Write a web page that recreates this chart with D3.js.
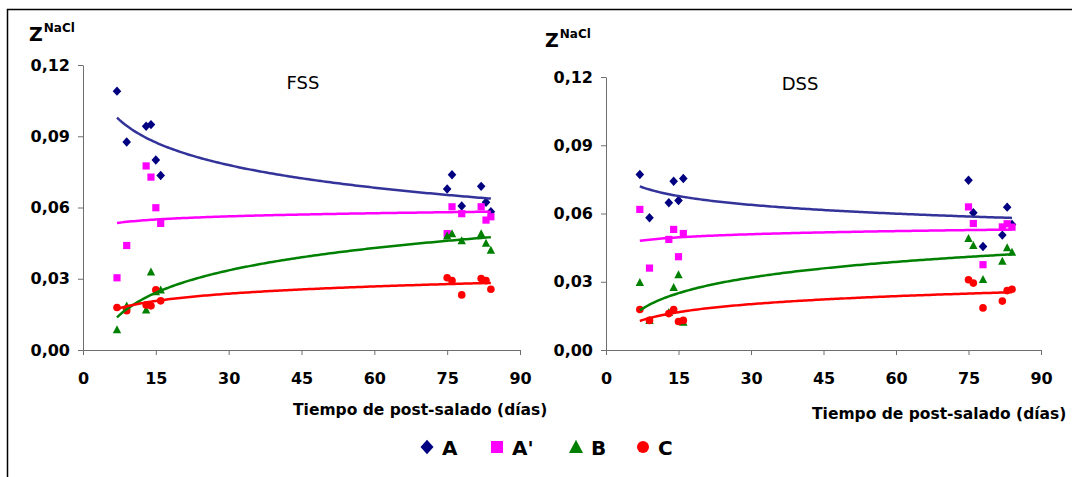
<!DOCTYPE html>
<html>
<head>
<meta charset="utf-8">
<script src="https://cdn.jsdelivr.net/npm/d3@7"></script>
<style>
  body { margin: 0; background: #fff; }
  svg { display: block; font-family: 'DejaVu Sans', Verdana, sans-serif; }
</style>
</head>
<body>
<svg id="chart" width="1072" height="477"></svg>
<script>
// days of post-salting, shared by every series
const days = [7, 9, 13, 14, 15, 16, 75, 76, 78, 82, 83, 84];

// FSS panel
const fssA = [0.109, 0.0876, 0.0942, 0.0949, 0.080, 0.0735, 0.0678, 0.0738, 0.0606, 0.0689, 0.0622, 0.0582];
const fssA2 = [0.0304, 0.044, 0.0775, 0.0728, 0.0599, 0.0533, 0.049, 0.0603, 0.0574, 0.0603, 0.0547, 0.0561];
const fssB = [0.0086, 0.0186, 0.0169, 0.0329, 0.0246, 0.0253, 0.048, 0.049, 0.046, 0.049, 0.045, 0.042];
const fssC = [0.0179, 0.0165, 0.019, 0.0186, 0.0253, 0.0207, 0.0304, 0.0292, 0.0232, 0.0301, 0.0292, 0.0256];

// DSS panel
const dssA = [0.0771, 0.0581, 0.0647, 0.0742, 0.0657, 0.0754, 0.0746, 0.0603, 0.0455, 0.0505, 0.0628, 0.0552];
const dssA2 = [0.0618, 0.036, 0.0486, 0.053, 0.041, 0.0512, 0.0629, 0.0556, 0.0375, 0.0541, 0.0555, 0.054];
const dssB = [0.0297, 0.013, 0.0165, 0.0275, 0.0331, 0.0122, 0.049, 0.046, 0.031, 0.039, 0.045, 0.043];
const dssC = [0.0178, 0.013, 0.016, 0.0178, 0.0125, 0.013, 0.0309, 0.0294, 0.0185, 0.0215, 0.0261, 0.0267];

const seriesNames = ['A', 'A\'', 'B', 'C'];
const yTicks = [0, 0.03, 0.06, 0.09, 0.12];
const xTicks = [0, 15, 30, 45, 60, 75, 90];
const xTitle = 'Tiempo de post-salado (días)';

const markerColors = ['#000080', '#ff00ff', '#008000', '#ff0000'];
const trendColors = ['#333399', '#ff00ff', '#008000', '#ff0000'];
const shapes = ['diamond', 'square', 'triangle', 'circle'];

const svg = d3.select('#chart');

// outer frame (right and bottom edges fall outside the picture)
svg.append('rect')
    .attr('x', 7.5).attr('y', 9.5)
    .attr('width', 1100).attr('height', 500)
    .attr('fill', 'none')
    .attr('stroke', '#000')
    .attr('stroke-width', 1.5);

function markerPath(shape, r) {
  if (shape == 'diamond') {
    return `M0,${-r * 1.1}L${r},0L0,${r * 1.1}L${-r},0Z`;
  }
  if (shape == 'square') {
    return `M${-r},${-r}H${r}V${r}H${-r}Z`;
  }
  if (shape == 'triangle') {
    return `M0,${-r * 1.05}L${r},${r * 0.85}L${-r},${r * 0.85}Z`;
  }
  const p = d3.path();
  p.arc(0, 0, r, 0, 2 * Math.PI);
  return p.toString();
}

// logarithmic least squares trend, like the spreadsheet trendline
function logFit(xs, ys) {
  const lx = xs.map(Math.log);
  const mx = d3.mean(lx);
  const my = d3.mean(ys);
  let sxy = 0;
  let sxx = 0;
  lx.forEach((v, i) => {
    sxy += (v - mx) * (ys[i] - my);
    sxx += (v - mx) * (v - mx);
  });
  const b = sxy / sxx;
  const a = my - b * mx;
  return (x) => a + b * Math.log(x);
}

const panels = [
  {title: 'FSS', series: [fssA, fssA2, fssB, fssC],
    left: 83, right: 520, top: 65, bottom: 350,
    titleX: 303, titleY: 89, zX: 29, zY: 41, xTitleX: 293, xTitleY: 415},
  {title: 'DSS', series: [dssA, dssA2, dssB, dssC],
    left: 606, right: 1041, top: 77, bottom: 350,
    titleX: 800, titleY: 90, zX: 545, zY: 47, xTitleX: 812, xTitleY: 419},
];

const markerSize = [4.3, 3.6, 4.2, 3.8];

for (const pn of panels) {
  const x = d3.scaleLinear().domain([0, 90]).range([pn.left, pn.right]);
  const y = d3.scaleLinear().domain([0, 0.12]).range([pn.bottom, pn.top]);

  const yAxis = svg.append('g')
      .attr('transform', 'translate(' + pn.left + ',0)')
      .call(d3.axisLeft(y).tickValues(yTicks)
          .tickFormat((d) => d3.format('.2f')(d).replace('.', ','))
          .tickSize(5).tickPadding(8).tickSizeOuter(0));

  const xAxis = svg.append('g')
      .attr('transform', 'translate(0,' + pn.bottom + ')')
      .call(d3.axisBottom(x).tickValues(xTicks)
          .tickSize(5).tickPadding(18).tickSizeOuter(0));

  for (const ax of [yAxis, xAxis]) {
    ax.attr('font-family', null).attr('font-size', null);
    ax.selectAll('path, line').attr('stroke', '#6e6e6e');
    ax.selectAll('text')
        .attr('fill', '#000')
        .style('font-size', '16px')
        .style('font-weight', 'bold');
  }

  // markers
  pn.series.forEach((vals, si) => {
    svg.append('g')
        .selectAll('path')
        .data(days.map((d, i) => ({x: d, y: vals[i]})))
        .enter()
        .append('path')
        .attr('transform', (d) => 'translate(' + x(d.x) + ',' + y(d.y) + ')')
        .attr('d', markerPath(shapes[si], markerSize[si]))
        .attr('fill', markerColors[si]);
  });

  // trendlines
  const line = d3.line()
      .x((d) => x(d.x))
      .y((d) => y(d.y));

  pn.series.forEach((vals, si) => {
    const f = logFit(days, vals);
    const pts = d3.range(d3.min(days), d3.max(days) + 0.01, 0.5)
        .map((d) => ({x: d, y: f(d)}));
    svg.append('path')
        .attr('d', line(pts))
        .attr('fill', 'none')
        .attr('stroke', trendColors[si])
        .attr('stroke-width', 2.5);
  });

  svg.append('text')
      .attr('x', pn.titleX).attr('y', pn.titleY)
      .attr('text-anchor', 'middle')
      .style('font-size', '18px')
      .text(pn.title);

  const z = svg.append('text')
      .attr('x', pn.zX).attr('y', pn.zY)
      .style('font-weight', 'bold')
      .style('font-size', '19px');
  z.append('tspan').text('Z');
  z.append('tspan')
      .attr('dy', -9)
      .attr('dx', 1)
      .style('font-size', '12px')
      .text('NaCl');

  svg.append('text')
      .attr('x', pn.xTitleX).attr('y', pn.xTitleY)
      .style('font-weight', 'bold')
      .style('font-size', '15.5px')
      .text(xTitle);
}

// legend
const legendX = [427, 497, 576, 643];
const legendY = 447;
const legendR = [6.5, 6, 7, 6];

seriesNames.forEach((name, i) => {
  svg.append('path')
      .attr('transform', 'translate(' + legendX[i] + ',' + legendY + ')')
      .attr('d', markerPath(shapes[i], legendR[i]))
      .attr('fill', markerColors[i]);
  svg.append('text')
      .attr('x', legendX[i] + 15).attr('y', legendY + 8)
      .style('font-weight', 'bold')
      .style('font-size', '20px')
      .text(name);
});
</script>
</body>
</html>
